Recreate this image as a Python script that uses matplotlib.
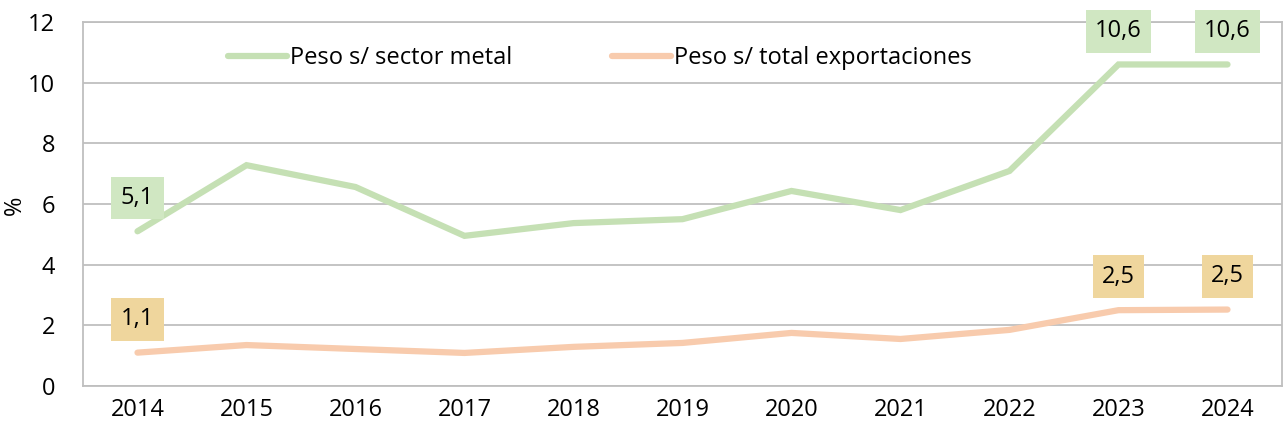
import numpy as np
import matplotlib.pyplot as plt

plt.rcParams['font.family'] = ['Open Sans', 'DejaVu Sans']

years = ['2014', '2015', '2016', '2017', '2018', '2019', '2020', '2021', '2022', '2023', '2024']
peso_metal = [5.1, 7.28, 6.56, 4.95, 5.37, 5.5, 6.43, 5.8, 7.09, 10.6, 10.6]
peso_total = [1.1, 1.35, 1.22, 1.09, 1.29, 1.42, 1.75, 1.55, 1.85, 2.5, 2.52]
labels_metal = {0: '5,1', 9: '10,6', 10: '10,6'}
labels_total = {0: '1,1', 9: '2,5', 10: '2,5'}

green = '#c5e0b4'
orange = '#f8cbad'
grid_c = '#bfbfbf'

fig = plt.figure(figsize=(12.83, 4.30), dpi=100)
ax = fig.add_axes([83/1283, 1-386/430, 1199/1283, 364/430])

x = np.arange(len(years))
ax.plot(x, peso_metal, color=green, lw=4.5, solid_capstyle='round', solid_joinstyle='miter',
        label='Peso s/ sector metal', zorder=3)
ax.plot(x, peso_total, color=orange, lw=4.5, solid_capstyle='round', solid_joinstyle='miter',
        label='Peso s/ total exportaciones', zorder=3)

for i, t in labels_metal.items():
    ax.annotate(t, (x[i], peso_metal[i]), xytext=(0, 24), textcoords='offset points',
                ha='center', va='center', fontsize=17, zorder=5,
                bbox=dict(boxstyle='square,pad=0.4', fc='#d0e7c2', ec='none'))
for i, t in labels_total.items():
    ax.annotate(t, (x[i], peso_total[i]), xytext=(0, 24), textcoords='offset points',
                ha='center', va='center', fontsize=17, zorder=5,
                bbox=dict(boxstyle='square,pad=0.4', fc='#efd69d', ec='none'))

ax.set_xlim(-0.5, len(years) - 0.5)
ax.set_ylim(0, 12)
ax.set_yticks(range(0, 13, 2))
ax.set_xticks(x)
ax.set_xticklabels(years)
ax.tick_params(axis='both', length=0, labelsize=17, pad=9)
ax.tick_params(axis='y', pad=20)
ax.yaxis.grid(True, color=grid_c, lw=1.3)
ax.set_axisbelow(True)
for s in ax.spines.values():
    s.set_color(grid_c)
    s.set_linewidth(1.3)

fig.text(15/1283, 1-205/430, '%', rotation=90, ha='center', va='center', fontsize=17)

fig.legend(loc='center', bbox_to_anchor=(600/1283, 1-58/430), bbox_transform=fig.transFigure,
           ncol=2, frameon=False, fontsize=17, handlelength=2.5, handletextpad=0.15,
           columnspacing=4.2)

fig.savefig('out.png', dpi=100)
